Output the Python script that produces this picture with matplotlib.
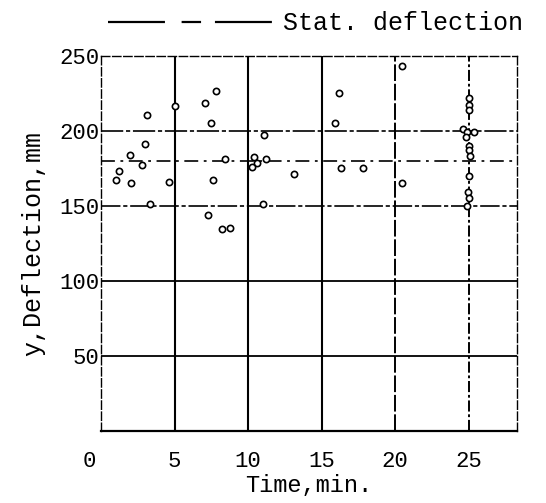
import numpy as np
import matplotlib
matplotlib.use("Agg")
import matplotlib.pyplot as plt
from matplotlib.lines import Line2D
import matplotlib.transforms as mtransforms

plt.rcParams['font.family'] = ['Liberation Mono', 'DejaVu Sans Mono']
plt.rcParams['lines.scale_dashes'] = False

# measured points: time (min) and deflection (mm)
time_min = [3.1, 5.05, 7.1, 7.8, 7.45, 3.0, 2.0, 2.8, 1.2, 1.05, 2.05, 4.65,
            8.4, 7.6, 3.35, 7.3, 8.2, 8.8,
            20.5, 16.2, 15.95, 11.1, 10.4, 10.6, 11.2, 10.3, 13.1, 16.3, 17.8,
            20.5, 11.0,
            25.0, 25.05, 25.0, 24.6, 24.9, 25.4, 24.8, 25.0, 25.0, 25.1, 25.0,
            24.95, 25.0, 24.9]
deflection_mm = [210.5, 216.5, 218.5, 226.5, 205.5, 191.5, 184.0, 177.0, 173.0,
                 167.5, 165.0, 166.0,
                 181.0, 167.5, 151.5, 144.0, 134.5, 135.5,
                 243.0, 225.5, 205.5, 197.0, 182.5, 178.5, 181.0, 176.0, 171.0,
                 175.5, 175.0,
                 165.5, 151.5,
                 222.0, 217.5, 214.0, 201.0, 199.0, 199.0, 196.0, 190.0, 187.5,
                 183.0, 170.0, 159.0, 155.0, 150.0]
stat_deflection = 180

x_ticks = [0, 5, 10, 15, 20, 25]
y_ticks = [50, 100, 150, 200, 250]

fig = plt.figure(figsize=(5.46, 5.03), dpi=100)
ax = fig.add_axes([0.185, 0.143, 0.762, 0.746])
ax.set_xlim(0, 28.3)
ax.set_ylim(0, 250)

# grid, drawn the way the old sheet looks
ax.axhline(50, color='black', lw=1.3, zorder=1)
ax.axhline(100, color='black', lw=1.3, zorder=1)
ax.axhline(150, color='black', lw=1.2, dashes=(14, 2, 3, 2), zorder=1)
ax.axhline(200, color='black', lw=1.2, dashes=(16, 2, 3, 2), zorder=1)
ax.axvline(5, color='black', lw=1.5, zorder=1)
ax.axvline(10, color='black', lw=1.5, zorder=1)
ax.axvline(15, color='black', lw=1.5, zorder=1)
ax.axvline(20, color='black', lw=1.4, dashes=(12, 2), zorder=1)
ax.axvline(25, color='black', lw=1.4, dashes=(8, 2, 2, 2), zorder=1)

ax.axhline(stat_deflection, color='black', lw=1.2, dashes=(10, 4, 2, 4), zorder=1)

ax.plot(time_min, deflection_mm, 'o', ms=4.5, mfc='white', mec='black', mew=1.2,
        zorder=3)

for side in ['top', 'right', 'left']:
    ax.spines[side].set_linestyle((0, (6, 2)))
    ax.spines[side].set_linewidth(1.0)
ax.spines['bottom'].set_linewidth(1.6)

ax.set_xticks(x_ticks)
ax.set_yticks(y_ticks)
ax.tick_params(length=0, labelsize=16)
ax.tick_params(axis='x', pad=14)
ax.tick_params(axis='y', pad=1)
# the "0" sits left of the axis corner
lbl0 = ax.get_xticklabels()[0]
lbl0.set_transform(lbl0.get_transform() +
                   mtransforms.ScaledTranslation(-0.12, 0, fig.dpi_scale_trans))

ax.set_xlabel('Time,min.', fontsize=17, labelpad=2)
ax.set_ylabel('y,Deflection,mm', fontsize=18, labelpad=10)

handle = Line2D([], [], color='black', lw=1.6, dashes=(41, 12, 14, 10))
fig.legend([handle], ['Stat. deflection'], loc='upper right',
           bbox_to_anchor=(0.99, 1.012), frameon=False, fontsize=18,
           handlelength=6.6, handletextpad=0.4, borderaxespad=0.3)

fig.savefig('out.png', dpi=100)
